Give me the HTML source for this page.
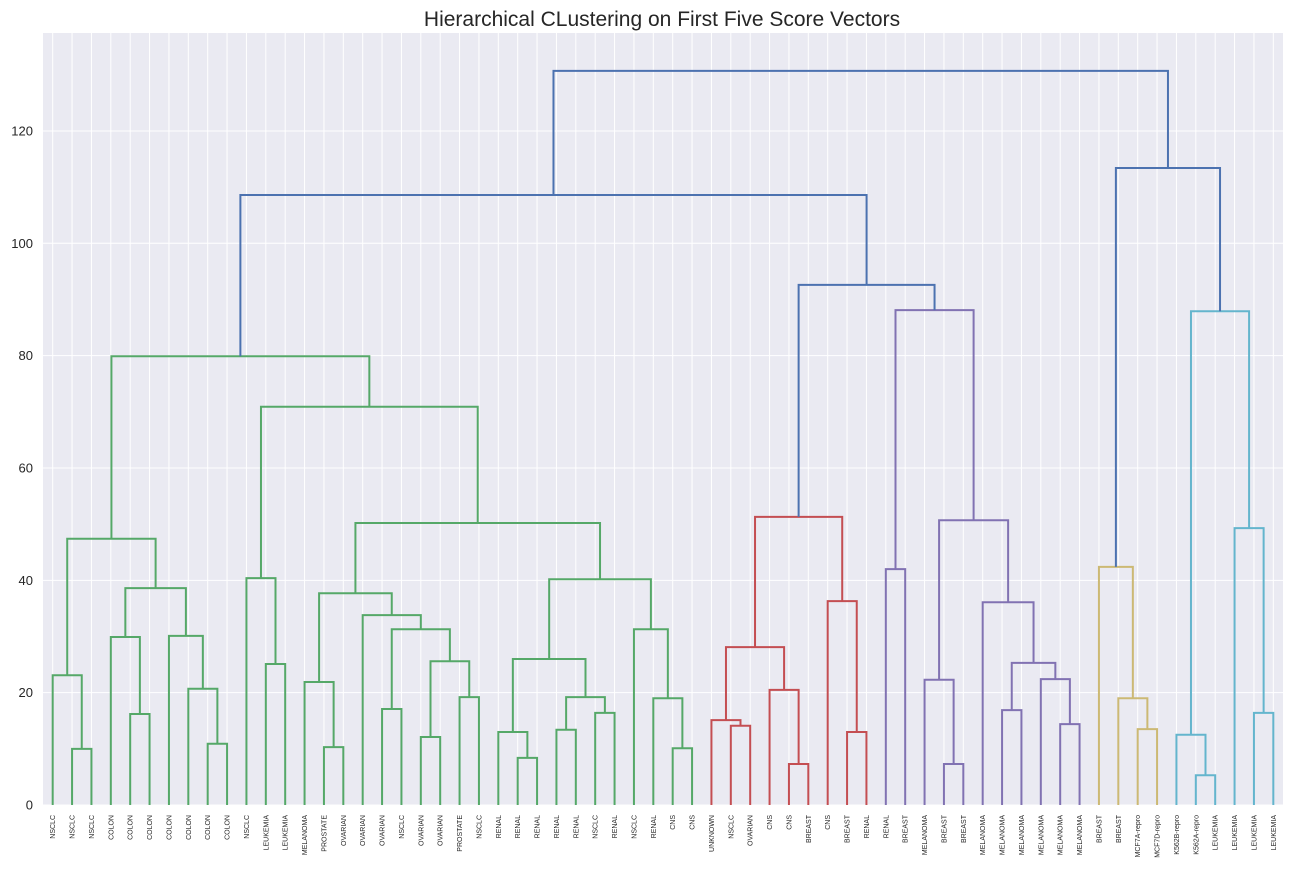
<!DOCTYPE html>
<html><head><meta charset="utf-8"><style>
body{margin:0;background:#fff;}
svg{display:block;font-family:"Liberation Sans",sans-serif;}
</style></head><body>
<svg id="chart" width="1292" height="875" xmlns="http://www.w3.org/2000/svg">
<text x="662" y="26" font-size="21" text-anchor="middle" fill="#262626">Hierarchical CLustering on First Five Score Vectors</text>
</svg>
<script>
const labels=["NSCLC","NSCLC","NSCLC","COLON","COLON","COLON","COLON","COLON","COLON","COLON","NSCLC","LEUKEMIA","LEUKEMIA","MELANOMA","PROSTATE","OVARIAN","OVARIAN","OVARIAN","NSCLC","OVARIAN","OVARIAN","PROSTATE","NSCLC","RENAL","RENAL","RENAL","RENAL","RENAL","NSCLC","RENAL","NSCLC","RENAL","CNS","CNS","UNKNOWN","NSCLC","OVARIAN","CNS","CNS","BREAST","CNS","BREAST","RENAL","RENAL","BREAST","MELANOMA","BREAST","BREAST","MELANOMA","MELANOMA","MELANOMA","MELANOMA","MELANOMA","MELANOMA","BREAST","BREAST","MCF7A-repro","MCF7D-repro","K562B-repro","K562A-repro","LEUKEMIA","LEUKEMIA","LEUKEMIA","LEUKEMIA"];
const yTicks=[0,20,40,60,80,100,120];
const cG="#55a868",cR="#c44e52",cP="#8172b2",cY="#ccb974",cC="#64b5cd",cB="#4c72b0";
// node: [left, right, height, color]
const g0_9=[[0,[1,2,10.0,cG],23.1,cG],[[3,[4,5,16.2,cG],29.9,cG],[6,[7,[8,9,10.9,cG],20.7,cG],30.1,cG],38.6,cG],47.4,cG];
const g13_22=[[13,[14,15,10.3,cG],21.9,cG],[16,[[17,18,17.1,cG],[[19,20,12.1,cG],[21,22,19.2,cG],25.6,cG],31.3,cG],33.8,cG],37.7,cG];
const g23_33=[[[23,[24,25,8.4,cG],13.0,cG],[[26,27,13.4,cG],[28,29,16.4,cG],19.2,cG],26.0,cG],[30,[31,[32,33,10.1,cG],19.0,cG],31.3,cG],40.2,cG];
const green=[g0_9,[[10,[11,12,25.1,cG],40.4,cG],[g13_22,g23_33,50.2,cG],70.9,cG],79.9,cG];
const red=[[[34,[35,36,14.1,cR],15.1,cR],[37,[38,39,7.3,cR],20.5,cR],28.1,cR],[40,[41,42,13.0,cR],36.3,cR],51.3,cR];
const purple=[[43,44,42.0,cP],[[45,[46,47,7.3,cP],22.3,cP],[48,[[49,50,16.9,cP],[51,[52,53,14.4,cP],22.4,cP],25.3,cP],36.1,cP],50.7,cP],88.1,cP];
const yellow=[54,[55,[56,57,13.5,cY],19.0,cY],42.4,cY];
const cyan=[[58,[59,60,5.3,cC],12.5,cC],[61,[62,63,16.4,cC],49.3,cC],87.9,cC];
const tree=[[green,[red,purple,92.6,cB],108.6,cB],[yellow,cyan,113.4,cB],130.7,cB];

const NS="http://www.w3.org/2000/svg";
const root=document.getElementById('chart');
const PL=43,PT=33,PW=1240,PH=772;
function xs(i){return PL+(5+10*i)*PW/640;}
function ys(v){return 805-v*5.617;}
function mk(t,a,p){const e=document.createElementNS(NS,t);for(const k in a)e.setAttribute(k,a[k]);(p||root).appendChild(e);return e;}
const bg=mk('rect',{x:PL,y:PT,width:PW,height:PH,fill:'#eaeaf2'});


const grid=mk('g',{stroke:'#fff','stroke-width':1});


labels.forEach(function(l,i){mk('line',{x1:xs(i),x2:xs(i),y1:PT,y2:PT+PH},grid);});
yTicks.forEach(function(v){
 mk('line',{x1:PL,x2:PL+PW,y1:ys(v),y2:ys(v)},grid);
 const t=mk('text',{x:33,y:ys(v)+4.5,'font-size':13,'text-anchor':'end',fill:'#262626'});
 t.textContent=v;
 
 
});
labels.forEach(function(l,i){
 const x=xs(i)+2.5,y=815;
 const t=mk('text',{x:x,y:y,'font-size':7,'text-anchor':'end',fill:'#262626',transform:'rotate(-90 '+x+' '+y+')'});
 t.textContent=l;
 
 
});
const lg=mk('g',{fill:'none','stroke-width':2});


function draw(n){
 if(typeof n==='number')return [xs(n),0];
 const a=draw(n[0]),b=draw(n[1]),h=n[2];
 const p=mk('path',{d:'M'+a[0]+','+ys(a[1])+'V'+ys(h)+'H'+b[0]+'V'+ys(b[1]),stroke:n[3]},lg);
 
 
 return [(a[0]+b[0])/2,h];
}
draw(tree);
</script>
</body></html>
